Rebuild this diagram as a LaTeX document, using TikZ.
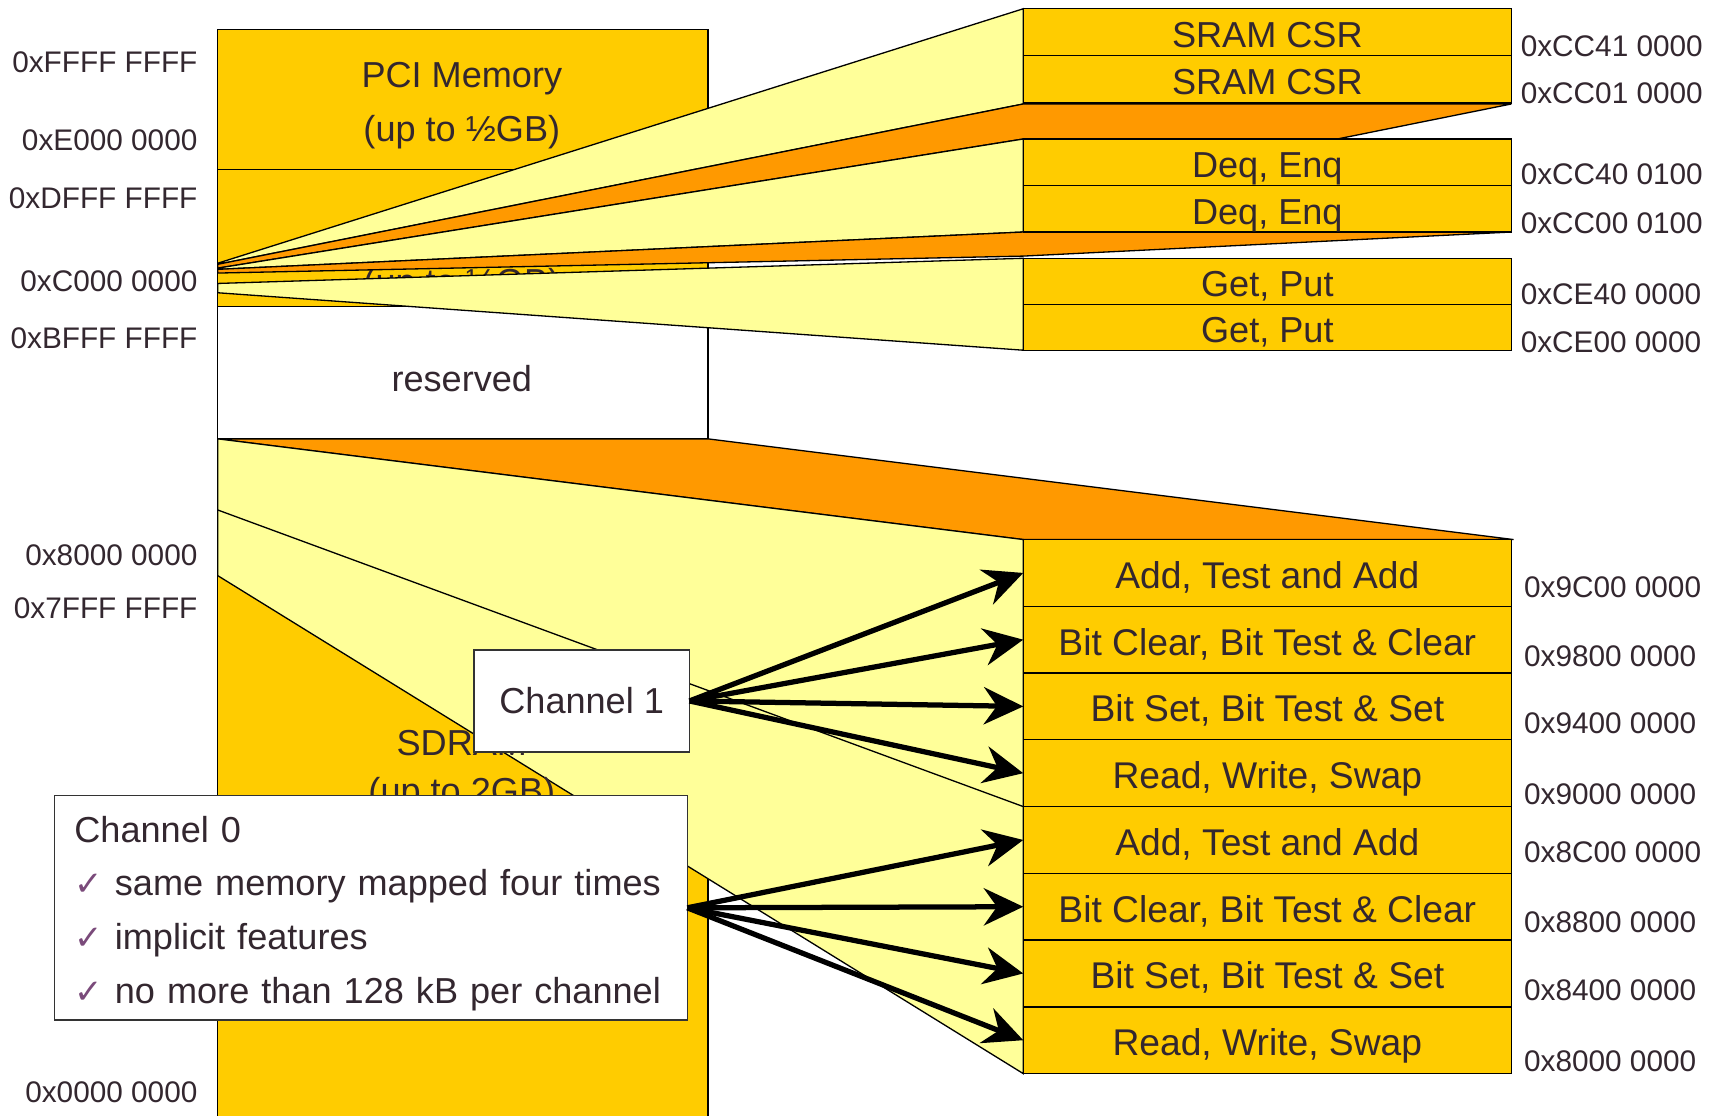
\documentclass[tikz,border=0pt]{standalone}
\usepackage{fontspec}
\setmainfont{Liberation Sans}
\newfontfamily\symbfont{DejaVu Sans}
\usetikzlibrary{positioning,arrows.meta}

\definecolor{gold}{HTML}{FFCC00}
\definecolor{paleyellow}{HTML}{FFFF99}
\definecolor{deeporange}{HTML}{FF9900}
\definecolor{ink}{HTML}{33272F}
\definecolor{tickpurple}{HTML}{7A4A7A}

\newcommand{\tickmk}{{\color{tickpurple}\symbfont\fontsize{15.5}{15.5}\selectfont ✓}}

\tikzset{
  regbox/.style={draw, fill=gold, minimum width=223pt, inner sep=0pt, outer sep=0pt,
    anchor=north west, text=ink, text height=14pt, text depth=0pt},
  lbl/.style={text=ink, text height=14pt, text depth=0pt},
  chanbox/.style={draw=black!80, fill=white, inner sep=0pt, outer sep=0pt, text=ink},
  addr/.style={font=\fontsize{13.6}{15}\selectfont, text=ink, inner sep=0pt},
  fan/.style={-{Stealth[length=18pt,width=17pt,inset=6pt]}, line width=2.4pt},
}

\begin{document}
\begin{tikzpicture}[x=0.5pt,y=-0.5pt,font=\fontsize{16.5}{19}\selectfont,line width=0.6pt]
\useasboundingbox (0,0) rectangle (1568,1019);
\clip (0,0) rectangle (1568,1019);
\filldraw[fill=gold] (199,27) rectangle (647,155);
\filldraw[fill=gold] (199,155) rectangle (647,280);
\filldraw[fill=white] (199,280) rectangle (647,401);
\filldraw[fill=gold] (199,401) rectangle (647,1040);
\node[text=ink, anchor=base] (sramsize) at (422,269) {(up to ½GB)};
\filldraw[fill=paleyellow] (199,240.5) -- (935,8) -- (935,95) -- (199,241.5) -- cycle;
\filldraw[fill=deeporange] (199,241.5) -- (935,95) -- (1381,95) -- (1222,127) -- (935,127) -- (199,245) -- cycle;
\filldraw[fill=paleyellow] (199,245) -- (935,127) -- (935,212) -- (199,246.1) -- cycle;
\filldraw[fill=deeporange] (199,246.1) -- (935,212) -- (1381,212) -- (935,234) -- (199,249.5) -- cycle;
\filldraw[fill=paleyellow] (199,259) -- (935,236) -- (935,320) -- (199,267.5) -- cycle;
\filldraw[fill=deeporange] (199,401) -- (647,401) -- (1383,493) -- (935,493) -- cycle;
\filldraw[fill=paleyellow] (199,401) -- (935,493) -- (935,981) -- (199,526) -- cycle;
\draw (199,466) -- (935,737);
\node[lbl] (pci) at (422,66) {PCI Memory};
\node[lbl] (pcisize) at (422,115) {(up to ½GB)};
\node[lbl] (resv) at (422,344) {reserved};
\node[lbl] (sdram) at (422,676) {SDRAM};
\node[lbl] (sdramsize) at (422,720) {(up to 2GB)};

\node[regbox, minimum height=21.5pt] (csr1) at (935,8) {SRAM CSR};
\node[regbox, minimum height=21.5pt, below=0pt of csr1] (csr0) {SRAM CSR};
\node[regbox, minimum height=21.25pt] (deq1) at (935,127) {Deq, Enq};
\node[regbox, minimum height=21.25pt, below=0pt of deq1] (deq0) {Deq, Enq};
\node[regbox, minimum height=21pt] (get1) at (935,236) {Get, Put};
\node[regbox, minimum height=21pt, below=0pt of get1] (get0) {Get, Put};
\foreach \lab [count=\i] in {{Add, Test and Add},{Bit Clear, Bit Test \& Clear},{Bit Set, Bit Test \& Set},{Read, Write, Swap},
  {Add, Test and Add},{Bit Clear, Bit Test \& Clear},{Bit Set, Bit Test \& Set},{Read, Write, Swap}}
  \node[regbox, minimum height=30.5pt, font=\fontsize{17}{19}\selectfont] (op\i) at (935,{493+61*(\i-1)}) {\lab};

\node[chanbox, minimum width=98.5pt, minimum height=46.5pt] (chan1) at (531.5,640.5) {Channel 1};
\node[chanbox, anchor=north west, minimum height=102.5pt, inner xsep=9pt, text width=271pt, align=left,
  font=\fontsize{16.5}{24.5}\selectfont] (chan0) at (50,727)
  {\rule{0pt}{17pt}Channel 0\\ \tickmk\ same memory mapped four times\\ \tickmk\ implicit features\\ \tickmk\ no more than 128 kB per channel};

\foreach \i in {1,...,4} \draw[fan] (chan1.east) -- (op\i.west);
\foreach \i in {5,...,8} \draw[fan] (chan0.east) -- (op\i.west);

\foreach \y/\t [count=\k] in {57/0xFFFF FFFF,128/0xE000 0000,181/0xDFFF FFFF,257/0xC000 0000,
  309/0xBFFF FFFF,507/0x8000 0000,556/0x7FFF FFFF,998/0x0000 0000}
  \node[addr, anchor=east] (lft\k) at (181,\y) {\t};
\foreach \y/\t [count=\k] in {42/0xCC41 0000,85/0xCC01 0000,159/0xCC40 0100,204/0xCC00 0100,
  269/0xCE40 0000,313/0xCE00 0000}
  \node[addr, anchor=west] (rtop\k) at (1389,\y) {\t};
\foreach \y/\t [count=\k] in {537/0x9C00 0000,600/0x9800 0000,661/0x9400 0000,726/0x9000 0000,
  779/0x8C00 0000,843/0x8800 0000,905/0x8400 0000,970/0x8000 0000}
  \node[addr, anchor=west] (rbot\k) at (1392,\y) {\t};
\end{tikzpicture}
\end{document}
